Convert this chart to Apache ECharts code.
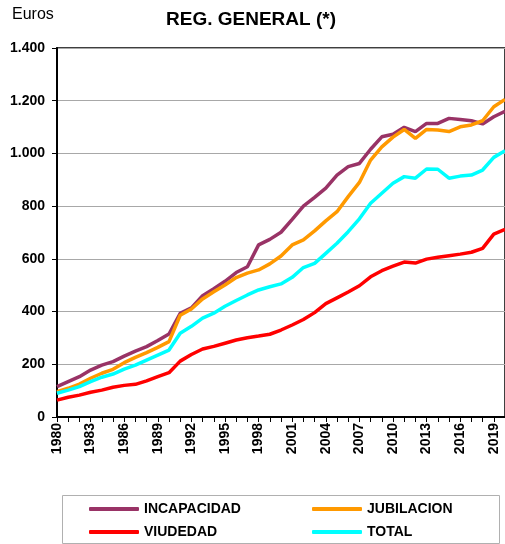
<!DOCTYPE html>
<html>
<head>
<meta charset="utf-8">
<script src="https://cdn.jsdelivr.net/npm/echarts@6/dist/echarts.min.js"></script>
<style>
  html, body { margin: 0; padding: 0; background: #fff; }
  #chart { width: 505px; height: 544px; }
</style>
</head>
<body>
<div id="chart"></div>
<script>
// años 1980-2020 (el último queda cortado por el borde derecho)
const years = []
for (let y = 1980; y <= 2020; y++) years.push(String(y))

const incapacidad = [115, 134, 153, 178, 197, 210, 231, 250, 267, 290,
  315, 393, 414, 460, 487, 515, 548, 570, 653, 674,
  701, 750, 800, 833, 868, 918, 950, 962, 1016, 1063,
  1073, 1099, 1083, 1114, 1114, 1133, 1129, 1124, 1112, 1139, 1160]

const jubilacion = [96, 109, 125, 147, 166, 181, 206, 226, 244, 264,
  286, 386, 410, 448, 475, 501, 529, 546, 558, 581,
  611, 653, 672, 706, 744, 779, 836, 890, 975, 1025,
  1062, 1091, 1057, 1091, 1089, 1083, 1101, 1108, 1124, 1177, 1205]

const viudedad = [64, 75, 83, 94, 102, 113, 120, 124, 137, 153,
  168, 212, 237, 258, 268, 280, 292, 301, 307, 314,
  330, 349, 370, 396, 430, 452, 474, 498, 532, 555,
  572, 588, 584, 599, 606, 612, 618, 625, 640, 694, 712]

const total = [90, 102, 115, 134, 151, 163, 182, 197, 216, 235,
  254, 318, 344, 375, 394, 420, 442, 463, 482, 494,
  505, 530, 567, 583, 621, 659, 703, 752, 811, 849,
  887, 912, 906, 941, 940, 906, 914, 918, 937, 985, 1010]

const yTicks = [0, 200, 400, 600, 800, 1000, 1200, 1400]

const font = '"Liberation Sans", Arial, sans-serif'
const chart = echarts.init(document.getElementById('chart'))

function serie(name, data, color) {
  return {
    name: name,
    type: 'line',
    data: data,
    symbol: 'none',
    smooth: false,
    lineStyle: { color: color, width: 3.5 },
    itemStyle: { color: color }
  }
}

const legendText = { fontFamily: font, fontWeight: 'bold', fontSize: 14, color: '#000' }

chart.setOption({
  animation: false,
  backgroundColor: '#fff',
  title: {
    text: 'REG. GENERAL (*)',
    left: 246,
    top: 5,
    textAlign: 'center',
    textStyle: { fontFamily: font, fontWeight: 'bold', fontSize: 19, color: '#000' }
  },
  graphic: [
    {
      type: 'text', left: 12, top: 7,
      style: { text: 'Euros', font: '16px ' + font, fill: '#000' }
    },
    {
      type: 'rect', left: 60, top: 493,
      shape: { width: 437, height: 48 },
      style: { fill: 'none', stroke: '#b0b0b0', lineWidth: 1 }
    }
  ],
  legend: [
    {
      data: ['INCAPACIDAD', 'VIUDEDAD'],
      orient: 'vertical',
      left: 84, top: 497,
      icon: 'roundRect',
      itemWidth: 50, itemHeight: 4, itemGap: 9,
      textStyle: legendText
    },
    {
      data: ['JUBILACION', 'TOTAL'],
      orient: 'vertical',
      left: 307, top: 497,
      icon: 'roundRect',
      itemWidth: 50, itemHeight: 4, itemGap: 9,
      textStyle: legendText
    }
  ],
  grid: {
    left: 57, width: 452, top: 48, bottom: 127,
    show: true, borderColor: '#000', borderWidth: 1.5,
    containLabel: false
  },
  xAxis: {
    type: 'category',
    data: years,
    boundaryGap: false,
    axisLine: { lineStyle: { color: '#000', width: 2 } },
    axisTick: { interval: 0, length: 5, lineStyle: { color: '#000' } },
    axisLabel: {
      interval: 2, rotate: 90, margin: 6,
      fontFamily: font, fontWeight: 'bold', fontSize: 14, color: '#000'
    },
    splitLine: { show: false }
  },
  yAxis: {
    type: 'value',
    min: yTicks[0], max: yTicks[yTicks.length - 1], interval: 200,
    axisLine: { show: true, lineStyle: { color: '#000', width: 2 } },
    axisTick: { show: true, length: 5, lineStyle: { color: '#000' } },
    axisLabel: {
      margin: 12,
      fontFamily: font, fontWeight: 'bold', fontSize: 14, color: '#000',
      formatter: v => String(v).replace(/\B(?=(\d{3})+(?!\d))/g, '.')
    },
    splitLine: { lineStyle: { color: '#a8a8a8', width: 1 } }
  },
  series: [
    serie('INCAPACIDAD', incapacidad, '#993366'),
    serie('JUBILACION', jubilacion, '#FF9900'),
    serie('VIUDEDAD', viudedad, '#FF0000'),
    serie('TOTAL', total, '#00FFFF')
  ]
})
</script>
</body>
</html>
